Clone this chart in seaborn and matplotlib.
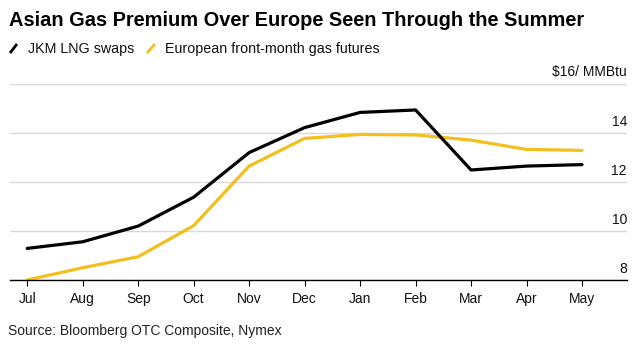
import matplotlib
matplotlib.use("Agg")
import matplotlib.pyplot as plt
import matplotlib.transforms as mtransforms
from matplotlib.lines import Line2D
import seaborn as sns
import pandas as pd

months = ["Jul", "Aug", "Sep", "Oct", "Nov", "Dec", "Jan", "Feb", "Mar", "Apr", "May"]
jkm = [9.29, 9.56, 10.2, 11.38, 13.2, 14.22, 14.84, 14.94, 12.49, 12.65, 12.71]
europe = [8.0, 8.5, 8.95, 10.22, 12.65, 13.78, 13.94, 13.92, 13.71, 13.33, 13.29]
series_names = ["JKM LNG swaps", "European front-month gas futures"]
y_ticks = [8, 10, 12, 14, 16]
y_labels = ["8", "10", "12", "14", r"\$16/ MMBtu"]
title = "Asian Gas Premium Over Europe Seen Through the Summer"
source = "Source: Bloomberg OTC Composite, Nymex"

colors = {series_names[0]: "#000000", series_names[1]: "#F2BF1C"}

sns.set_theme(style="white")
plt.rcParams["font.family"] = ["Liberation Sans", "DejaVu Sans"]

df = pd.DataFrame({
    "month": months * 2,
    "value": jkm + europe,
    "series": [series_names[0]] * len(months) + [series_names[1]] * len(months),
})

W, H = 643, 350
fig = plt.figure(figsize=(W / 100, H / 100), dpi=100)
ax = fig.add_axes([10 / W, 70 / H, 617 / W, 196 / H])

sns.lineplot(data=df, x="month", y="value", hue="series", hue_order=series_names[::-1],
             palette=colors, sort=False, linewidth=2.3, ax=ax, legend=False)

ax.set_xlim(-0.31, 10.81)
ax.set_ylim(8, 16)
ax.set_xlabel("")
ax.set_ylabel("")

# gridlines
ax.set_yticks(y_ticks)
ax.yaxis.grid(True, color="#d9d9d9", linewidth=1)
ax.xaxis.grid(False)
ax.tick_params(axis="y", left=False, right=False, labelleft=False, labelright=False)
for s in ["left", "right", "top"]:
    ax.spines[s].set_visible(False)
ax.spines["bottom"].set_color("#000000")
ax.spines["bottom"].set_linewidth(1)
ax.spines["bottom"].set_zorder(5)

ax.tick_params(axis="x", bottom=True, length=4.5, width=0.8, color="#000000",
               pad=4, labelsize=10, labelcolor="#111111")

# y labels right-aligned, above the gridlines
off = mtransforms.ScaledTranslation(0, 7 / 100, fig.dpi_scale_trans)
for v, lab in zip(y_ticks, y_labels):
    extra = 1 / 100 if v == 16 else 0
    tr = ax.get_yaxis_transform() + mtransforms.ScaledTranslation(0, 7 / 100 + extra, fig.dpi_scale_trans)
    ax.text(1.0, v, lab, transform=tr, ha="right", va="baseline", fontsize=10, color="#111111")

# title, fitted to width
t = fig.text(9 / W, 1 - 26 / H, title, fontsize=15, fontweight="bold", ha="left",
             va="baseline", color="#000000")
fig.canvas.draw()
bb = t.get_window_extent()
target = 578
if bb.width > 0:
    t.set_fontsize(15 * target / bb.width)

# legend
fig.add_artist(Line2D([10 / W, 17 / W], [1 - 53 / H, 1 - 44 / H], color=colors[series_names[0]],
                      linewidth=2, transform=fig.transFigure, solid_capstyle="butt"))
fig.text(28 / W, 1 - 53 / H, series_names[0], fontsize=10.3, ha="left", va="baseline", color="#111111")
fig.add_artist(Line2D([147 / W, 155 / W], [1 - 53 / H, 1 - 44 / H], color=colors[series_names[1]],
                      linewidth=2, transform=fig.transFigure, solid_capstyle="butt"))
fig.text(165 / W, 1 - 53 / H, series_names[1], fontsize=10.3, ha="left", va="baseline", color="#111111")

fig.text(8 / W, 1 - 335 / H, source, fontsize=10, ha="left", va="baseline", color="#222222")

fig.savefig("out.png", dpi=100)
